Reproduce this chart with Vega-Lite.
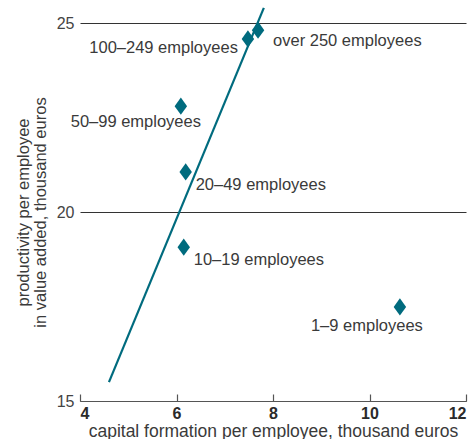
{
  "$schema": "https://vega.github.io/schema/vega-lite/v6.json",
  "width": 386,
  "height": 378,
  "autosize": "none",
  "padding": {"left": 80, "top": 23, "right": 3, "bottom": 38},
  "background": "white",
  "config": {
    "view": {"stroke": null},
    "font": "Liberation Sans"
  },
  "datasets": {
    "pts": [
      {"group": "over 250 employees", "capital": 7.69, "productivity": 24.81},
      {"group": "100–249 employees", "capital": 7.48, "productivity": 24.58},
      {"group": "50–99 employees", "capital": 6.09, "productivity": 22.8},
      {"group": "20–49 employees", "capital": 6.19, "productivity": 21.06},
      {"group": "10–19 employees", "capital": 6.15, "productivity": 19.07},
      {"group": "1–9 employees", "capital": 10.63, "productivity": 17.49}
    ],
    "trend": [
      {"capital": 4.6, "productivity": 15.5},
      {"capital": 7.81, "productivity": 25.4}
    ]
  },
  "encoding": {
    "x": {
      "field": "capital", "type": "quantitative",
      "scale": {"domain": [4, 12], "nice": false, "zero": false},
      "axis": {
        "values": [4, 6, 8, 10, 12],
        "title": "capital formation per employee, thousand euros",
        "titleFont": "Liberation Sans", "titleFontSize": 17.5, "titleFontWeight": "normal", "titleColor": "#3a3a3a",
        "titlePadding": 1,
        "labelFont": "Liberation Sans", "labelFontSize": 16, "labelFontWeight": "bold", "labelColor": "#2a2a2a",
        "labelPadding": 11,
        "domainColor": "#555", "domainWidth": 1.2,
        "tickColor": "#555", "tickSize": -7, "tickWidth": 1.2,
        "grid": false
      }
    },
    "y": {
      "field": "productivity", "type": "quantitative",
      "scale": {"domain": [15, 25], "nice": false, "zero": false},
      "axis": {
        "values": [15, 20, 25],
        "title": ["productivity per employee", "in value added, thousand  euros"],
        "titleFont": "Liberation Sans", "titleFontSize": 16.5, "titleFontWeight": "normal", "titleColor": "#3a3a3a",
        "titleLineHeight": 17, "titlePadding": 8,
        "labelFont": "Liberation Sans", "labelFontSize": 16, "labelColor": "#444",
        "labelPadding": 6,
        "domain": false, "ticks": false,
        "grid": true, "gridColor": "#333", "gridWidth": 1
      }
    }
  },
  "layer": [
    {
      "data": {"name": "trend"},
      "mark": {"type": "line", "color": "#006b7e", "strokeWidth": 2.2, "clip": false},
      "encoding": {}
    },
    {
      "data": {"name": "pts"},
      "mark": {"type": "point", "shape": "M0,-1L0.72,0L0,1L-0.72,0Z", "filled": true, "opacity": 1, "color": "#006b7e", "size": 300},
      "encoding": {}
    },
    {
      "data": {"name": "pts"},
      "transform": [{"filter": "datum.group === 'over 250 employees'"}],
      "mark": {"type": "text", "font": "Liberation Sans", "fontSize": 16.5, "color": "#3a3a3a", "align": "left", "baseline": "middle", "dx": 15, "dy": 11},
      "encoding": {"text": {"field": "group"}}
    },
    {
      "data": {"name": "pts"},
      "transform": [{"filter": "datum.group === '100–249 employees'"}],
      "mark": {"type": "text", "font": "Liberation Sans", "fontSize": 16.5, "color": "#3a3a3a", "align": "right", "baseline": "middle", "dx": -10, "dy": 9},
      "encoding": {"text": {"field": "group"}}
    },
    {
      "data": {"name": "pts"},
      "transform": [{"filter": "datum.group === '50–99 employees'"}],
      "mark": {"type": "text", "font": "Liberation Sans", "fontSize": 16.5, "color": "#3a3a3a", "align": "center", "baseline": "middle", "dx": -45, "dy": 16},
      "encoding": {"text": {"field": "group"}}
    },
    {
      "data": {"name": "pts"},
      "transform": [{"filter": "datum.group === '20–49 employees' || datum.group === '10–19 employees'"}],
      "mark": {"type": "text", "font": "Liberation Sans", "fontSize": 16.5, "color": "#3a3a3a", "align": "left", "baseline": "middle", "dx": 10, "dy": 13},
      "encoding": {"text": {"field": "group"}}
    },
    {
      "data": {"name": "pts"},
      "transform": [{"filter": "datum.group === '1–9 employees'"}],
      "mark": {"type": "text", "font": "Liberation Sans", "fontSize": 16.5, "color": "#3a3a3a", "align": "center", "baseline": "middle", "dx": -33, "dy": 19},
      "encoding": {"text": {"field": "group"}}
    }
  ]
}
